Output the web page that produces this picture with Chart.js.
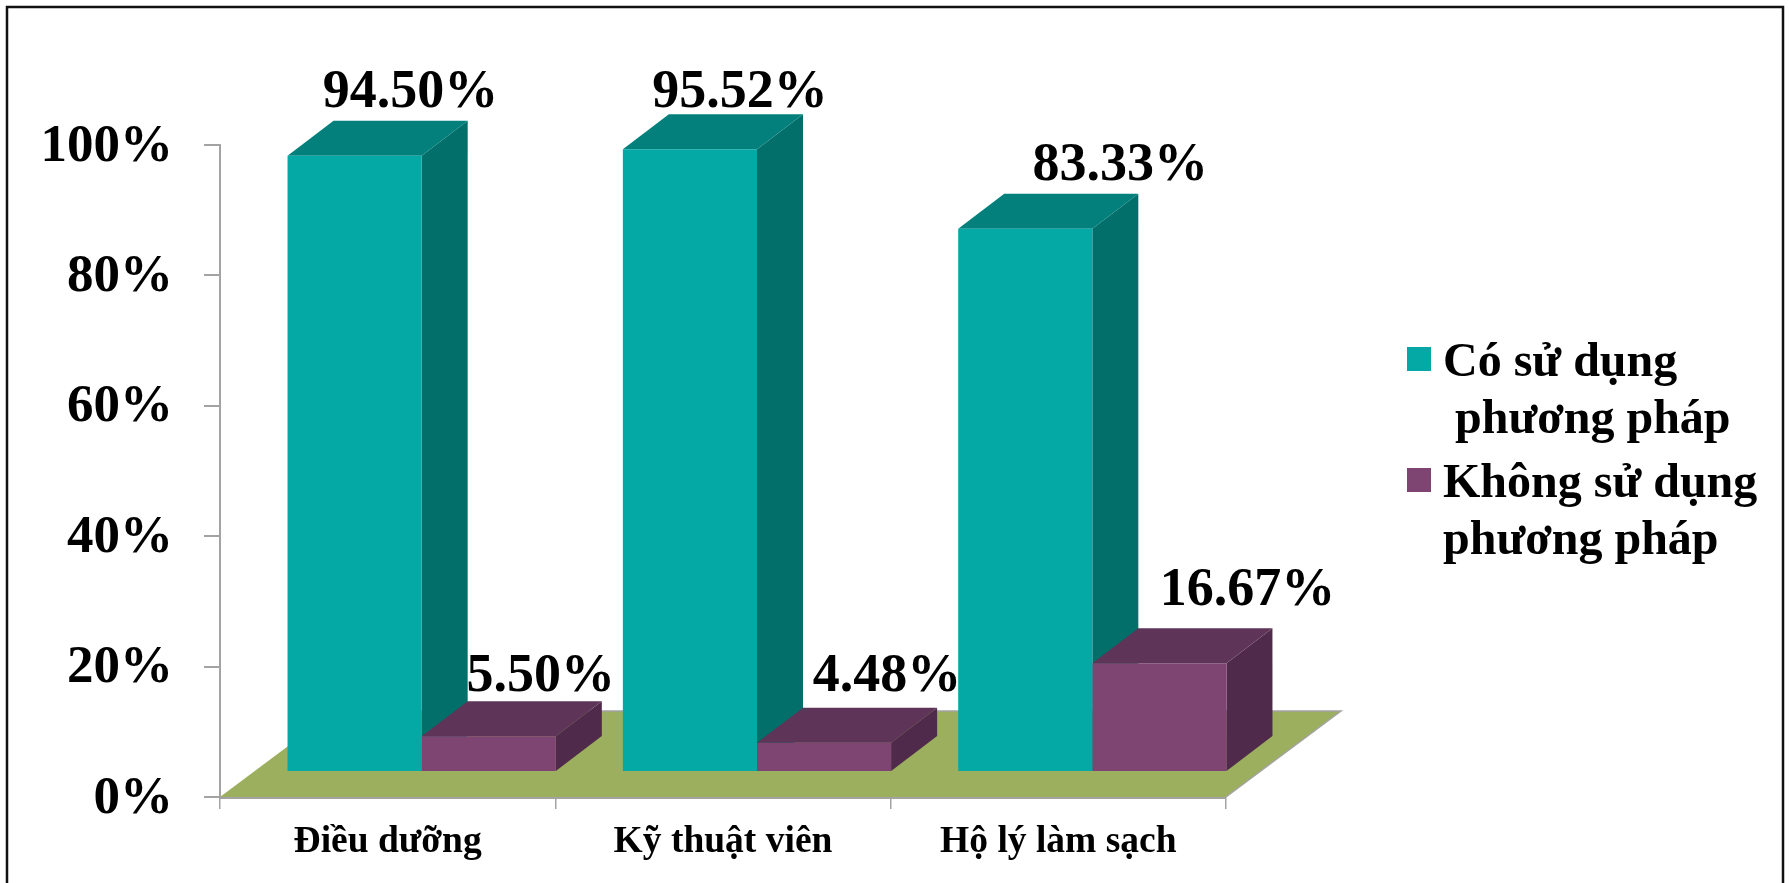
<!DOCTYPE html>
<html>
<head>
<meta charset="utf-8">
<title>Phương pháp</title>
<script src="https://cdn.jsdelivr.net/npm/chart.js@4"></script>
<style>
  html, body { margin: 0; padding: 0; background: #fff; overflow: hidden; }
  canvas { display: block; }
</style>
</head>
<body>
<canvas id="chart" width="1789" height="883"></canvas>
<script>
// Chart values
const categories = ['Điều dưỡng', 'Kỹ thuật viên', 'Hộ lý làm sạch'];
const coValues = [94.50, 95.52, 83.33];
const khongValues = [5.50, 4.48, 16.67];
const yTicks = [0, 20, 40, 60, 80, 100];
const coLegend = ['Có sử dụng', ' phương pháp'];
const khongLegend = ['Không sử dụng', 'phương pháp'];

const SERIF = "'Liberation Serif', 'Times New Roman', serif";
const AXIS_GREY = '#A3A3A3';

// Fake 3D: bars sit a little behind the axis plane, extruded further back
const BAR_SHIFT = { x: 34, y: -25 };
const DEPTH = { x: 46, y: -35 };
const FLOOR_DEPTH = { x: 115, y: -86 };

const FACES = [
  { front: '#04A9A5', top: '#03807B', side: '#026F6A' },
  { front: '#7E4472', top: '#5E3558', side: '#4F2A4A' }
];

// Hand placed value labels, offset from the centre/top of each bar front
const LABEL_NUDGE = [
  [[56, -49], [50, -42], [95, -49]],
  [[52, -45], [63, -52], [88, -58]]
];

function poly(ctx, pts, fill) {
  ctx.beginPath();
  pts.forEach((p, i) => i ? ctx.lineTo(p[0], p[1]) : ctx.moveTo(p[0], p[1]));
  ctx.closePath();
  ctx.fillStyle = fill;
  ctx.fill();
}

const frame3d = {
  id: 'frame3d',
  beforeDraw(chart) {
    // outer picture frame, bottom edge falls off the page
    const ctx = chart.ctx;
    ctx.save();
    ctx.strokeStyle = '#111';
    ctx.lineWidth = 2.5;
    ctx.strokeRect(7, 7, 1776, 900);
    ctx.restore();
  },
  beforeDatasetsDraw(chart) {
    const ctx = chart.ctx;
    const { left, right, bottom } = chart.chartArea;

    // floor
    ctx.save();
    const floor = [
      [left, bottom], [right, bottom],
      [right + FLOOR_DEPTH.x, bottom + FLOOR_DEPTH.y],
      [left + FLOOR_DEPTH.x, bottom + FLOOR_DEPTH.y]
    ];
    poly(ctx, floor, '#9BAF5E');
    ctx.strokeStyle = AXIS_GREY;
    ctx.lineWidth = 1.5;
    ctx.beginPath();
    ctx.moveTo(floor[1][0], floor[1][1]);
    ctx.lineTo(floor[2][0], floor[2][1]);
    ctx.lineTo(floor[3][0], floor[3][1]);
    ctx.stroke();

    // tops and sides, teal first so the purple overlaps it
    chart.data.datasets.forEach((ds, d) => {
      chart.getDatasetMeta(d).data.forEach(bar => {
        const x0 = bar.x - bar.width / 2 + BAR_SHIFT.x;
        const x1 = bar.x + bar.width / 2 + BAR_SHIFT.x;
        const yTop = bar.y + BAR_SHIFT.y;
        const yBase = bar.base + BAR_SHIFT.y;
        poly(ctx, [[x1, yTop], [x1 + DEPTH.x, yTop + DEPTH.y], [x1 + DEPTH.x, yBase + DEPTH.y], [x1, yBase]], FACES[d].side);
        poly(ctx, [[x0, yTop], [x1, yTop], [x1 + DEPTH.x, yTop + DEPTH.y], [x0 + DEPTH.x, yTop + DEPTH.y]], FACES[d].top);
      });
    });
    ctx.restore();
  },
  beforeDatasetDraw(chart) {
    // the front faces are the real bars, just moved back
    chart.ctx.save();
    chart.ctx.translate(BAR_SHIFT.x, BAR_SHIFT.y);
  },
  afterDatasetDraw(chart) {
    chart.ctx.restore();
  },
  afterDatasetsDraw(chart) {
    const ctx = chart.ctx;
    ctx.save();
    ctx.fillStyle = '#000';
    ctx.font = `bold 54px ${SERIF}`;
    ctx.textAlign = 'center';
    ctx.textBaseline = 'alphabetic';
    chart.data.datasets.forEach((ds, d) => {
      chart.getDatasetMeta(d).data.forEach((bar, i) => {
        const nudge = LABEL_NUDGE[d][i];
        const text = ds.data[i].toFixed(2) + '%';
        ctx.fillText(text, bar.x + BAR_SHIFT.x + nudge[0], bar.y + BAR_SHIFT.y + nudge[1]);
      });
    });
    ctx.restore();
  },
  afterDraw(chart) {
    // legend, two lines per entry so the built-in one doesn't fit
    const ctx = chart.ctx;
    ctx.save();
    ctx.font = `bold 48px ${SERIF}`;
    ctx.textAlign = 'left';
    ctx.textBaseline = 'alphabetic';
    [
      { lines: coLegend, color: FACES[0].front, y: 347 },
      { lines: khongLegend, color: FACES[1].front, y: 468 }
    ].forEach(item => {
      ctx.fillStyle = item.color;
      ctx.fillRect(1407, item.y, 24, 24);
      ctx.fillStyle = '#000';
      item.lines.forEach((line, l) => {
        ctx.fillText(line, 1443, item.y + 29 + l * 57);
      });
    });
    ctx.restore();
  }
};

new Chart(document.getElementById('chart'), {
  type: 'bar',
  data: {
    labels: categories,
    datasets: [
      { label: coLegend.join(' '), data: coValues, backgroundColor: FACES[0].front },
      { label: khongLegend.join(' '), data: khongValues, backgroundColor: FACES[1].front }
    ]
  },
  options: {
    responsive: false,
    animation: false,
    layout: { padding: { top: 145, right: 563, left: 0, bottom: 0 } },
    categoryPercentage: 0.8,
    barPercentage: 1,
    plugins: {
      legend: { display: false },
      tooltip: { enabled: false }
    },
    scales: {
      x: {
        afterFit: s => { s.height = 86; },
        grid: { drawOnChartArea: false, color: AXIS_GREY, lineWidth: 1.5, tickLength: 12, offset: true },
        border: { color: AXIS_GREY, width: 3 },
        ticks: {
          color: '#000',
          padding: 11,
          maxRotation: 0,
          autoSkip: false,
          font: { family: SERIF, size: 37.5, weight: 'bold' }
        }
      },
      y: {
        min: 0,
        max: 100,
        afterFit: s => { s.width = 220; },
        afterBuildTicks: s => { s.ticks = yTicks.map(v => ({ value: v })); },
        grid: { drawOnChartArea: false, color: AXIS_GREY, lineWidth: 2, tickLength: 16 },
        border: { color: AXIS_GREY, width: 2 },
        ticks: {
          color: '#000',
          padding: 31,
          labelOffset: 2,
          callback: v => v + '%',
          font: { family: SERIF, size: 53, weight: 'bold' }
        }
      }
    }
  },
  plugins: [frame3d]
});
</script>
</body>
</html>
